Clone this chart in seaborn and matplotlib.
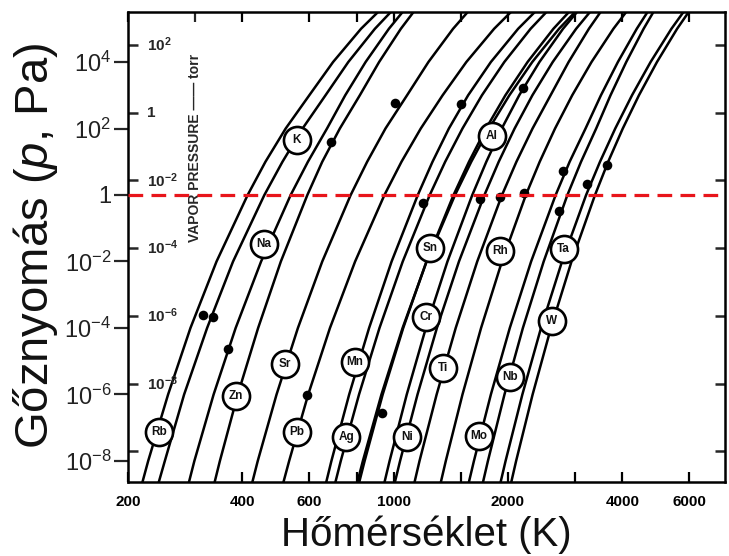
import matplotlib
matplotlib.use("Agg")
import matplotlib.pyplot as plt
import numpy as np
import pandas as pd
import seaborn as sns
from matplotlib.ticker import FixedLocator, FixedFormatter, NullFormatter

sns.set_theme(style="white")
plt.rcParams["font.family"] = ["Liberation Sans", "DejaVu Sans"]
plt.rcParams["mathtext.fontset"] = "custom"
plt.rcParams["mathtext.rm"] = "Liberation Sans"
plt.rcParams["mathtext.it"] = "Liberation Sans:italic"
plt.rcParams["mathtext.bf"] = "Liberation Sans:bold"

# ---------------- data ----------------
# pressure levels (Pa) at which the temperature of every curve was read
PRESSURE_LEVELS_PA = [1e-9, 1e-8, 1e-6, 1e-4, 1e-2, 1, 1e1, 1e2, 1e3, 1e4, 1e5, 1e6]

ELEMENTS = ["Rb", "K", "Na", "Zn", "Sr", "Pb", "Mn", "Ag", "Al", "Sn",
            "Cr", "Ni", "Ti", "Rh", "Mo", "Nb", "Ta", "W"]

# temperature (K) of each vapour-pressure curve at PRESSURE_LEVELS_PA
T_RB = [214, 226, 255, 292, 342, 413, 460, 520, 600, 693, 821, 1007]
T_K = [236, 250, 281, 323, 378, 457, 510, 576, 662, 760, 893, 1081]
T_NA = [284, 299, 336, 384, 448, 536, 595, 668, 746, 844, 972, 1146]
T_ZN = [332, 349, 389, 440, 505, 593, 649, 722, 815, 916, 1045, 1217]
T_SR = [417, 439, 492, 560, 649, 771, 852, 952, 1085, 1235, 1434, 1710]
T_PB = [503, 531, 596, 680, 792, 946, 1049, 1179, 1346, 1554, 1839, 2250]
T_MN = [653, 686, 764, 862, 988, 1158, 1266, 1398, 1571, 1803, 2127, 2600]
T_AG = [690, 726, 811, 918, 1057, 1245, 1367, 1518, 1708, 1956, 2294, 2775]
T_AL = [797, 839, 936, 1060, 1220, 1438, 1579, 1751, 1969, 2252, 2634, 3174]
T_SN = [788, 830, 929, 1056, 1222, 1451, 1601, 1784, 2017, 2317, 2725, 3306]
T_CR = [930, 976, 1083, 1216, 1386, 1611, 1754, 1926, 2141, 2420, 2792, 3303]
T_NI = [990, 1040, 1156, 1300, 1486, 1734, 1891, 2082, 2319, 2623, 3023, 3570]
T_TI = [1116, 1170, 1298, 1457, 1660, 1929, 2105, 2321, 2589, 2888, 3266, 3757]
T_RH = [1309, 1372, 1518, 1699, 1928, 2229, 2424, 2660, 2952, 3318, 3789, 4417]
T_MO = [1551, 1627, 1803, 2022, 2301, 2670, 2906, 3200, 3513, 3893, 4365, 4968]
T_NB = [1690, 1771, 1958, 2189, 2483, 2867, 3114, 3413, 3723, 4095, 4550, 5118]
T_TA = [1880, 1971, 2182, 2443, 2775, 3211, 3493, 3831, 4241, 4746, 5385, 6223]
T_W = [2006, 2101, 2322, 2594, 2939, 3389, 3670, 4010, 4423, 4933, 5574, 6406]

CURVE_T = [T_RB, T_K, T_NA, T_ZN, T_SR, T_PB, T_MN, T_AG, T_AL, T_SN,
           T_CR, T_NI, T_TI, T_RH, T_MO, T_NB, T_TA, T_W]

# circled element labels: (T in K, p in Pa)
LABEL_NAMES = ["Rb", "K", "Na", "Zn", "Sr", "Pb", "Mn", "Ag", "Ni", "Al",
               "Sn", "Rh", "Ta", "Cr", "Ti", "W", "Nb", "Mo"]
LABEL_T = [242, 556, 456, 385, 518, 556, 791, 750, 1087, 1810,
           1246, 1904, 2804, 1216, 1352, 2608, 2024, 1675]
LABEL_P = [7.6e-8, 45.1, 0.0336, 9.0e-7, 8.3e-6, 7.6e-8, 9.7e-6, 5.4e-8, 5.4e-8, 59.4,
           0.0249, 0.0211, 0.0233, 2.1e-4, 6.1e-6, 1.66e-4, 3.3e-6, 5.8e-8]

# melting points (dots): (T in K, p in Pa)
MELT_T = [316, 335, 367, 590, 683, 931, 1008, 1197, 1509, 1686,
          1904, 2210, 2196, 2788, 2722, 3220, 3638]
MELT_P = [2.46e-4, 2.1e-4, 2.29e-5, 9.7e-7, 40.1, 2.7e-7, 573, 0.562, 546, 0.759,
          0.853, 1.17, 1618, 5.38, 0.330, 2.14, 7.98]

# axis ticks
PA_TICKS = [1e-8, 1e-6, 1e-4, 1e-2, 1, 1e2, 1e4]
PA_TICK_LABELS = ["10$^{-8}$", "10$^{-6}$", "10$^{-4}$", "10$^{-2}$", "1", "10$^{2}$", "10$^{4}$"]
# torr scale of the original chart, positions as drawn (in Pa units of the chart)
TORR_TICK_POS = [10 ** -7.7, 10 ** -5.67, 10 ** -3.63, 10 ** -1.6, 10 ** 0.44, 10 ** 2.47, 10 ** 4.51]
TORR_TICK_LABELS = ["", "10$^{\\mathbf{-8}}$", "10$^{\\mathbf{-6}}$", "10$^{\\mathbf{-4}}$",
                    "10$^{\\mathbf{-2}}$", "1", "10$^{\\mathbf{2}}$"]
T_TICKS = [200, 400, 600, 800, 1000, 1500, 2000, 3000, 4000, 6000]
T_TICK_LABELS = ["200", "400", "600", "", "1000", "", "2000", "", "4000", "6000"]
T_TOP_EXTRA = [300]

# ---------------- figure ----------------
W_PX, H_PX = 729, 556
fig = plt.figure(figsize=(W_PX / 100, H_PX / 100), dpi=100)
ax = fig.add_axes([128 / W_PX, 1 - 482 / H_PX, (725 - 128) / W_PX, (482 - 12) / H_PX])

rows = []
for name, temps in zip(ELEMENTS, CURVE_T):
    for t, p in zip(temps, PRESSURE_LEVELS_PA):
        rows.append({"element": name, "T": t, "p": p})
df = pd.DataFrame(rows)

sns.lineplot(data=df, x="T", y="p", hue="element", palette=["black"] * len(ELEMENTS),
             estimator=None, sort=False, legend=False, linewidth=1.8, ax=ax, zorder=2)

ax.set_xscale("log")
ax.set_yscale("log")
ax.set_xlim(200, 7450)
ax.set_ylim(10 ** -8.632, 10 ** 5.504)
ax.set_xlabel("")
ax.set_ylabel("")

# melting-point dots
sns.scatterplot(x=MELT_T, y=MELT_P, color="black", s=48, edgecolor="black",
                linewidth=0, ax=ax, zorder=4)

# circled labels
ax.scatter(LABEL_T, LABEL_P, s=380, facecolor="white", edgecolor="black",
           linewidth=1.9, zorder=5)
for name, t, p in zip(LABEL_NAMES, LABEL_T, LABEL_P):
    ax.text(t, p, name, ha="center", va="center", fontsize=8.5, fontweight="bold",
            zorder=6, color="#111111")

# red dashed line at 1 Pa
ax.axhline(1.0, color="#e8151b", linewidth=2.3, dashes=(4.6, 2.6), zorder=7)

# spines
for s in ax.spines.values():
    s.set_linewidth(1.8)
    s.set_color("black")

# x ticks
ax.xaxis.set_major_locator(FixedLocator(T_TICKS))
ax.xaxis.set_major_formatter(FixedFormatter(T_TICK_LABELS))
ax.xaxis.set_minor_locator(FixedLocator(T_TOP_EXTRA))
ax.xaxis.set_minor_formatter(NullFormatter())
ax.tick_params(axis="x", which="major", direction="in", length=7, width=1.6,
               bottom=True, top=True, labelsize=11, pad=9, colors="black")
ax.tick_params(axis="x", which="minor", direction="in", length=7, width=1.6,
               bottom=False, top=True)
for lab in ax.get_xticklabels():
    lab.set_fontweight("bold")

# y ticks: Pa outside on the left, torr inside on both sides
ax.yaxis.set_major_locator(FixedLocator(PA_TICKS))
ax.yaxis.set_major_formatter(FixedFormatter(PA_TICK_LABELS))
ax.yaxis.set_minor_locator(FixedLocator(TORR_TICK_POS))
ax.yaxis.set_minor_formatter(NullFormatter())
ax.tick_params(axis="y", which="major", direction="out", length=10, width=1.6,
               left=True, right=False, labelsize=17, pad=2, labelcolor="#222222")
ax.tick_params(axis="y", which="minor", direction="in", length=7, width=1.8,
               left=True, right=True)

trans = ax.get_yaxis_transform()
for pos, lab in zip(TORR_TICK_POS, TORR_TICK_LABELS):
    if lab:
        ax.text(0.031, pos, lab, transform=trans, ha="left", va="center",
                fontsize=11, fontweight="bold", zorder=3)

ax.text(0.112, 0.711, "VAPOR PRESSURE \u2014\u2014 torr", transform=ax.transAxes,
        rotation=90, ha="center", va="center", fontsize=10, fontweight="bold", zorder=3)

fig.text(36 / W_PX, 1 - 246 / H_PX, "Gőznyomás ($\\mathit{p}$, Pa)", rotation=90,
         ha="center", va="center", fontsize=34, color="#111111")
fig.text(426 / W_PX, 1 - 535 / H_PX, "Hőmérséklet (K)", ha="center", va="center",
         fontsize=29, color="#111111")

fig.savefig("out.png", dpi=100, facecolor="white")
